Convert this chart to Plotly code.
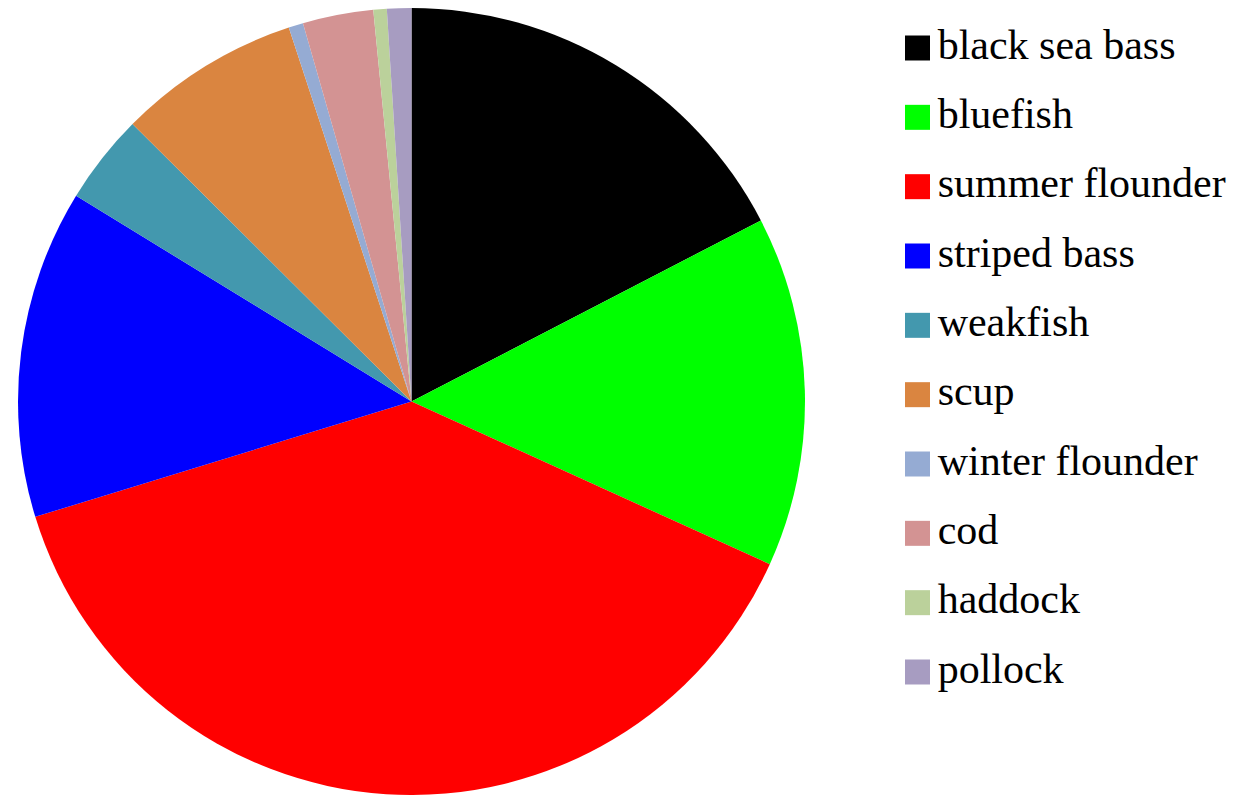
import plotly.graph_objects as go

species = ["black sea bass", "bluefish", "summer flounder", "striped bass", "weakfish",
           "scup", "winter flounder", "cod", "haddock", "pollock"]
shares = [17.4, 14.4, 38.5, 13.5, 3.7, 7.5, 0.6, 2.9, 0.55, 1.0]
colors = ["#000000", "#00FF00", "#FF0000", "#0000FF", "#4398AE",
          "#DA8540", "#95ABD3", "#D39393", "#BBD19B", "#A79CC1"]

W, H = 1247, 795
SERIF = "Liberation Serif, Times New Roman, Times, DejaVu Serif, serif"

fig = go.Figure()
fig.add_trace(go.Pie(
    labels=species, values=shares, sort=False, direction="clockwise", rotation=0,
    marker=dict(colors=colors, line=dict(width=0)),
    textinfo="none", hoverinfo="label+percent", showlegend=False,
    domain=dict(x=[18 / W, (18 + 787) / W], y=[0, 787 / H]),
))

# legend drawn as a scatter of square swatches with labels
idx = list(range(len(species)))
fig.add_trace(go.Scatter(
    x=[0] * len(species), y=idx, mode="markers+text",
    marker=dict(symbol="square", size=25, color=colors, line=dict(width=0)),
    text=["\u200a" + s for s in species], textposition="middle right",
    textfont=dict(family=SERIF, size=42, color="black"),
    hoverinfo="skip", showlegend=False, cliponaxis=False,
))

step = 624 / 9
top = -48 / step
fig.update_layout(
    width=W, height=H,
    margin=dict(l=0, r=0, t=0, b=0),
    paper_bgcolor="white", plot_bgcolor="rgba(0,0,0,0)",
    showlegend=False,
    font=dict(family=SERIF),
    xaxis=dict(visible=False, range=[-917.5, W - 917.5], domain=[0, 1], fixedrange=True),
    yaxis=dict(visible=False, range=[top + H / step, top], domain=[0, 1], fixedrange=True),
)

fig.write_html("out.html", config={"displayModeBar": False},
               post_script="document.body.style.margin='0';")
